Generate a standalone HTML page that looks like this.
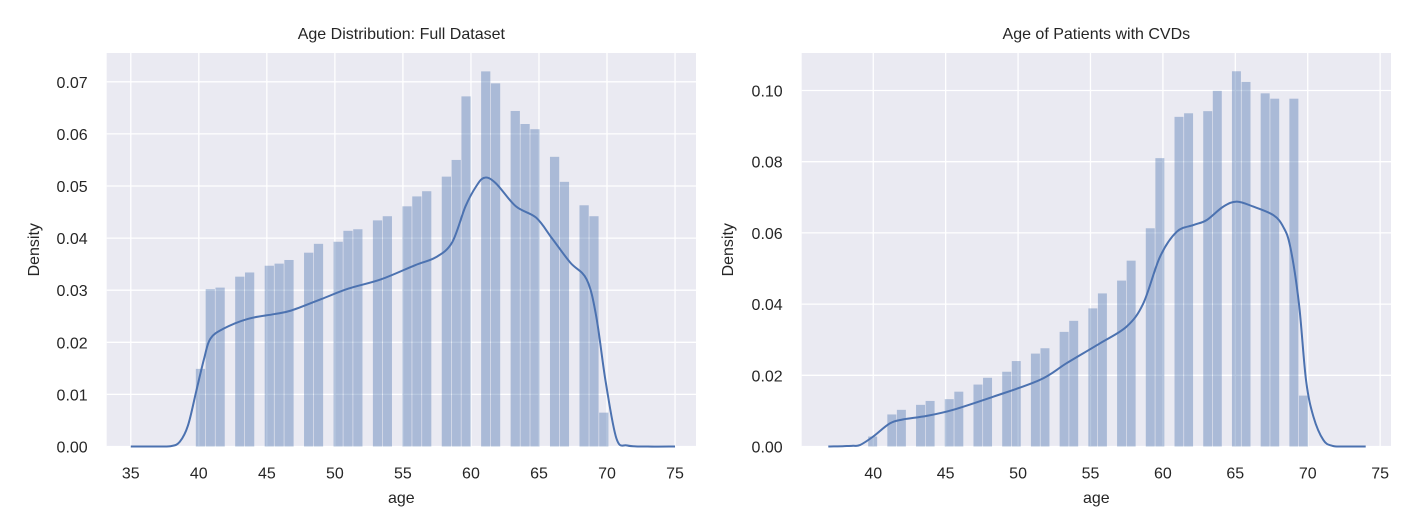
<!DOCTYPE html>
<html><head><meta charset="utf-8"><style>
body{margin:0;background:#fff;}
svg{display:block;font-family:"Liberation Sans","DejaVu Sans",sans-serif;}
</style></head><body>
<svg id="chart" width="1408" height="525" viewBox="0 0 1408 525"></svg>
<script>
// Left panel data
const leftBinStart = 39.78;
const leftBinWidth = 0.723;
const leftBinIndex = [0,1,2,4,5,7,8,9,11,12,14,15,16,18,19,21,22,23,25,26,27,29,30,32,33,34,36,37,39,40,41];
const leftDensity = [0.0149,0.0302,0.0305,0.0326,0.0334,0.0347,0.0351,0.0358,0.0372,0.0389,0.0393,0.0414,0.0417,0.0434,0.0442,0.0461,0.0480,0.0490,0.0518,0.0550,0.0672,0.0720,0.0697,0.0644,0.0619,0.0609,0.0556,0.0508,0.0463,0.0442,0.0065];
const leftKdeAge = [35,37,38,38.6,39.2,39.8,40.4,40.85,41.8,43.6,45.5,46.8,49.0,51.0,53.4,55.9,57.4,58.6,59.6,60.4,61.0,61.8,63.3,64.8,66.0,67.3,68.5,69.2,69.9,70.7,71.5,73,75];
const leftKdeDens = [0,0,0.0001,0.0009,0.004,0.0105,0.017,0.0207,0.0226,0.0245,0.0254,0.0261,0.0283,0.0303,0.0321,0.0348,0.0363,0.0391,0.0461,0.0500,0.0516,0.0506,0.0461,0.0439,0.0398,0.0353,0.0321,0.0251,0.0124,0.0015,0.0002,0,0];
const leftXTicks = [35,40,45,50,55,60,65,70,75];
const leftYTicks = [0,0.01,0.02,0.03,0.04,0.05,0.06,0.07];
// Right panel data
const rightBinStart = 39.65;
const rightBinWidth = 0.661;
const rightBinIndex = [0,2,3,5,6,8,9,11,12,14,15,17,18,20,21,23,24,26,27,29,30,32,33,35,36,38,39,41,42,44,45];
const rightDensity = [0.0028,0.0090,0.0103,0.0117,0.0128,0.0133,0.0154,0.0174,0.0193,0.0210,0.0240,0.0261,0.0276,0.0322,0.0353,0.0388,0.0430,0.0466,0.0522,0.0613,0.0810,0.0926,0.0936,0.0942,0.0999,0.1054,0.1024,0.0992,0.0977,0.0977,0.0143];
const rightKdeAge = [36.9,38,38.6,39.08,40.0,41.15,42.07,43.69,45.52,48.29,51.51,53.35,55.66,57.5,58.65,59.8,60.95,62.1,63.02,64.17,65.1,66.24,67.62,68.31,68.8,69.4,69.88,70.39,71.08,71.7,72.5,74];
const rightKdeDens = [0,0.0001,0.0002,0.0004,0.0028,0.0065,0.0076,0.0086,0.0103,0.0140,0.0187,0.0234,0.0290,0.0337,0.0402,0.0533,0.0603,0.0622,0.0636,0.0674,0.0688,0.0674,0.0650,0.0617,0.0560,0.0400,0.0187,0.0084,0.0018,0.0002,0,0];
const rightXTicks = [40,45,50,55,60,65,70,75];
const rightYTicks = [0,0.02,0.04,0.06,0.08,0.10];

const NS = 'http://www.w3.org/2000/svg';
const svg = document.getElementById('chart');
function mk(tag, attrs, parent){const e=document.createElementNS(NS,tag);for(const k in attrs)e.setAttribute(k,attrs[k]);(parent||svg).appendChild(e);return e;}

function smoothPath(p){
  let d = 'M'+p[0][0].toFixed(1)+','+p[0][1].toFixed(1);
  for(let i=0;i<p.length-1;i++){
    const p0=p[Math.max(0,i-1)],p1=p[i],p2=p[i+1],p3=p[Math.min(p.length-1,i+2)];
    const c1x=p1[0]+(p2[0]-p0[0])/6,c1y=p1[1]+(p2[1]-p0[1])/6;
    const c2x=p2[0]-(p3[0]-p1[0])/6,c2y=p2[1]-(p3[1]-p1[1])/6;
    d+=` C${c1x.toFixed(1)},${c1y.toFixed(1)} ${c2x.toFixed(1)},${c2y.toFixed(1)} ${p2[0].toFixed(1)},${p2[1].toFixed(1)}`;
  }
  return d;
}

function panel(cfg){
  const g = mk('g',{});
  
  
  const {L,R,T,B,xmin,xmax,ymax} = cfg;
  const xs = v => L + (v - xmin) / (xmax - xmin) * (R - L);
  const ys = v => B - v / ymax * (B - T);
  const bg = mk('rect',{x:L,y:T,width:R-L,height:B-T,fill:'#eaeaf2'},g);
  
  
  cfg.xticks.forEach(t=>{
    const l = mk('line',{x1:xs(t),x2:xs(t),y1:T,y2:B,stroke:'#fff','stroke-width':1.3},g);
    
    
    const tx = mk('text',{x:xs(t),y:B+32,'text-anchor':'middle','font-size':16,fill:'#262626'},g);
    
    
    tx.textContent = t;
  });
  cfg.yticks.forEach(t=>{
    const l = mk('line',{x1:L,x2:R,y1:ys(t),y2:ys(t),stroke:'#fff','stroke-width':1.3},g);
    
    
    const tx = mk('text',{x:L-19,y:ys(t)+6,'text-anchor':'end','font-size':16,fill:'#262626'},g);
    
    
    tx.textContent = t.toFixed(2);
  });
  cfg.binIndex.forEach((k,i)=>{
    const a0 = cfg.binStart + k*cfg.binWidth, a1 = a0 + cfg.binWidth;
    const d = cfg.density[i];
    const r = mk('rect',{x:xs(a0),y:ys(d),width:xs(a1)-xs(a0)-0.6,height:ys(0)-ys(d),fill:'#4c72b0','fill-opacity':0.4},g);
    
    
  });
  const pts = cfg.kdeAge.map((a,i)=>[xs(a),ys(cfg.kdeDens[i])]);
  const pl = mk('path',{d:smoothPath(pts),fill:'none',stroke:'#4c72b0','stroke-width':2,'stroke-linejoin':'round'},g);
  
  
  const title = mk('text',{x:(L+R)/2,y:39,'text-anchor':'middle','font-size':16,fill:'#262626'},g);
  
  
  title.textContent = cfg.title;
  const xl = mk('text',{x:(L+R)/2,y:503,'text-anchor':'middle','font-size':16,fill:'#262626'},g);
  
  
  xl.textContent = 'age';
  const yl = mk('text',{x:0,y:0,'text-anchor':'middle','font-size':16,fill:'#262626',transform:`translate(${cfg.ylabX},${(T+B)/2}) rotate(-90)`},g);
  
  
  yl.textContent = 'Density';
}

panel({name:'full-dataset-panel',title:'Age Distribution: Full Dataset',L:106.7,R:696,T:53,B:446.5,xmin:33.23,xmax:76.54,ymax:(446.5-53)/5210,
  xticks:leftXTicks,yticks:leftYTicks,binStart:leftBinStart,binWidth:leftBinWidth,binIndex:leftBinIndex,density:leftDensity,kdeAge:leftKdeAge,kdeDens:leftKdeDens,ylabX:39});
panel({name:'cvd-patients-panel',title:'Age of Patients with CVDs',L:801.7,R:1391,T:53,B:446.5,xmin:35.06,xmax:75.75,ymax:(446.5-53)/3560,
  xticks:rightXTicks,yticks:rightYTicks,binStart:rightBinStart,binWidth:rightBinWidth,binIndex:rightBinIndex,density:rightDensity,kdeAge:rightKdeAge,kdeDens:rightKdeDens,ylabX:733});
</script>
</body></html>
